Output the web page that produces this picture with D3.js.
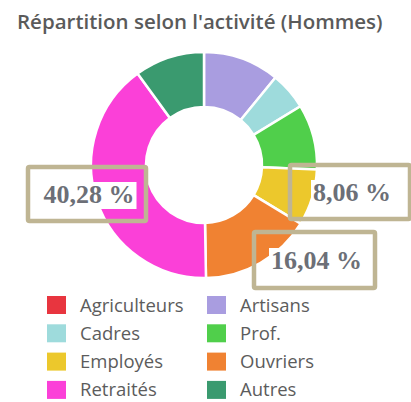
<!DOCTYPE html>
<html>
<head>
<meta charset="utf-8">
<script src="https://cdn.jsdelivr.net/npm/d3@7"></script>
<style>
  body { margin: 0; background: #fff; }
  text { font-family: "Open Sans", sans-serif; }
</style>
</head>
<body>
<div id="chart"></div>
<script>
// data
const categories = ["Agriculteurs", "Artisans", "Cadres", "Prof.", "Employés", "Ouvriers", "Retraités", "Autres"];
const values = [0, 10.9, 5.4, 9.32, 8.06, 16.04, 40.28, 10.0];
const colors = ["#e8353f", "#a99de0", "#9edbdc", "#50cf4b", "#ecc82c", "#f08232", "#fb40d8", "#3a9a6f"];
const labelled = ["Retraités", "Employés", "Ouvriers"];

// size
const width = 411, height = 402;
const cx = 204, cy = 165;
const outerR = 113, innerR = 58;

const svg = d3.select("#chart")
    .append("svg")
    .attr("width", width)
    .attr("height", height);

// title
svg.append("text")
    .attr("x", 17)
    .attr("y", 29)
    .style("font-size", "20.5px")
    .style("font-weight", 600)
    .style("fill", "#5a5a5a")
    .text("Répartition selon l'activité (Hommes)");

const data = categories.map((c, i) => ({name: c, value: values[i], color: colors[i]}));

const pie = d3.pie().sort(null).value(d => d.value);
const arc = d3.arc().innerRadius(innerR).outerRadius(outerR);

const g = svg.append("g")
    .attr("transform", `translate(${cx}, ${cy})`);

const arcs = pie(data);

g.selectAll("path")
    .data(arcs.filter(d => d.data.value > 0))
    .join("path")
    .attr("d", arc)
    .attr("fill", d => d.data.color)
    .attr("stroke", "#fff")
    .attr("stroke-width", 2.5);

// percentage callouts (box offsets relative to the donut centre)
const boxes = {
    "Retraités": {x: -176, y: 2, w: 118, h: 54},
    "Employés": {x: 86, y: 0, w: 120, h: 54},
    "Ouvriers": {x: 50, y: 67, w: 121, h: 56}
};
const fmt = v => d3.format(".2f")(v).replace(".", ",") + " %";

arcs.filter(d => labelled.includes(d.data.name)).forEach(d => {
    const b = boxes[d.data.name];
    const lg = g.append("g").attr("transform", `translate(${b.x}, ${b.y})`);
    const t = lg.append("text")
        .attr("x", b.w / 2 + 2)
        .attr("y", b.h / 2 + 9)
        .attr("text-anchor", "middle")
        .style("font-family", "'Liberation Serif', 'DejaVu Serif', serif")
        .style("font-weight", "bold")
        .style("font-size", "26px")
        .style("fill", "#6c6f77")
        .text(fmt(d.data.value));
    const bb = t.node().getBBox();
    lg.insert("rect", "text")
        .attr("x", bb.x - 2)
        .attr("y", bb.y + 2)
        .attr("width", bb.width + 4)
        .attr("height", bb.height - 2)
        .attr("fill", "#fff");
    lg.append("rect")
        .attr("width", b.w)
        .attr("height", b.h)
        .attr("fill", "none")
        .attr("stroke", "#bfb593")
        .attr("stroke-width", 4.5)
        .attr("rx", 1.5);
});

// legend
const legend = svg.append("g")
    .attr("transform", "translate(47, 296)");

const item = legend.selectAll("g")
    .data(data)
    .join("g")
    .attr("transform", (d, i) => `translate(${(i % 2) * 160}, ${Math.floor(i / 2) * 28.3})`);

item.append("rect")
    .attr("width", 19)
    .attr("height", 18)
    .attr("fill", d => d.color);

item.append("text")
    .attr("x", 33)
    .attr("y", 15.5)
    .style("font-size", "18.5px")
    .style("fill", "#5c5c5c")
    .text(d => d.name);
</script>
</body>
</html>
